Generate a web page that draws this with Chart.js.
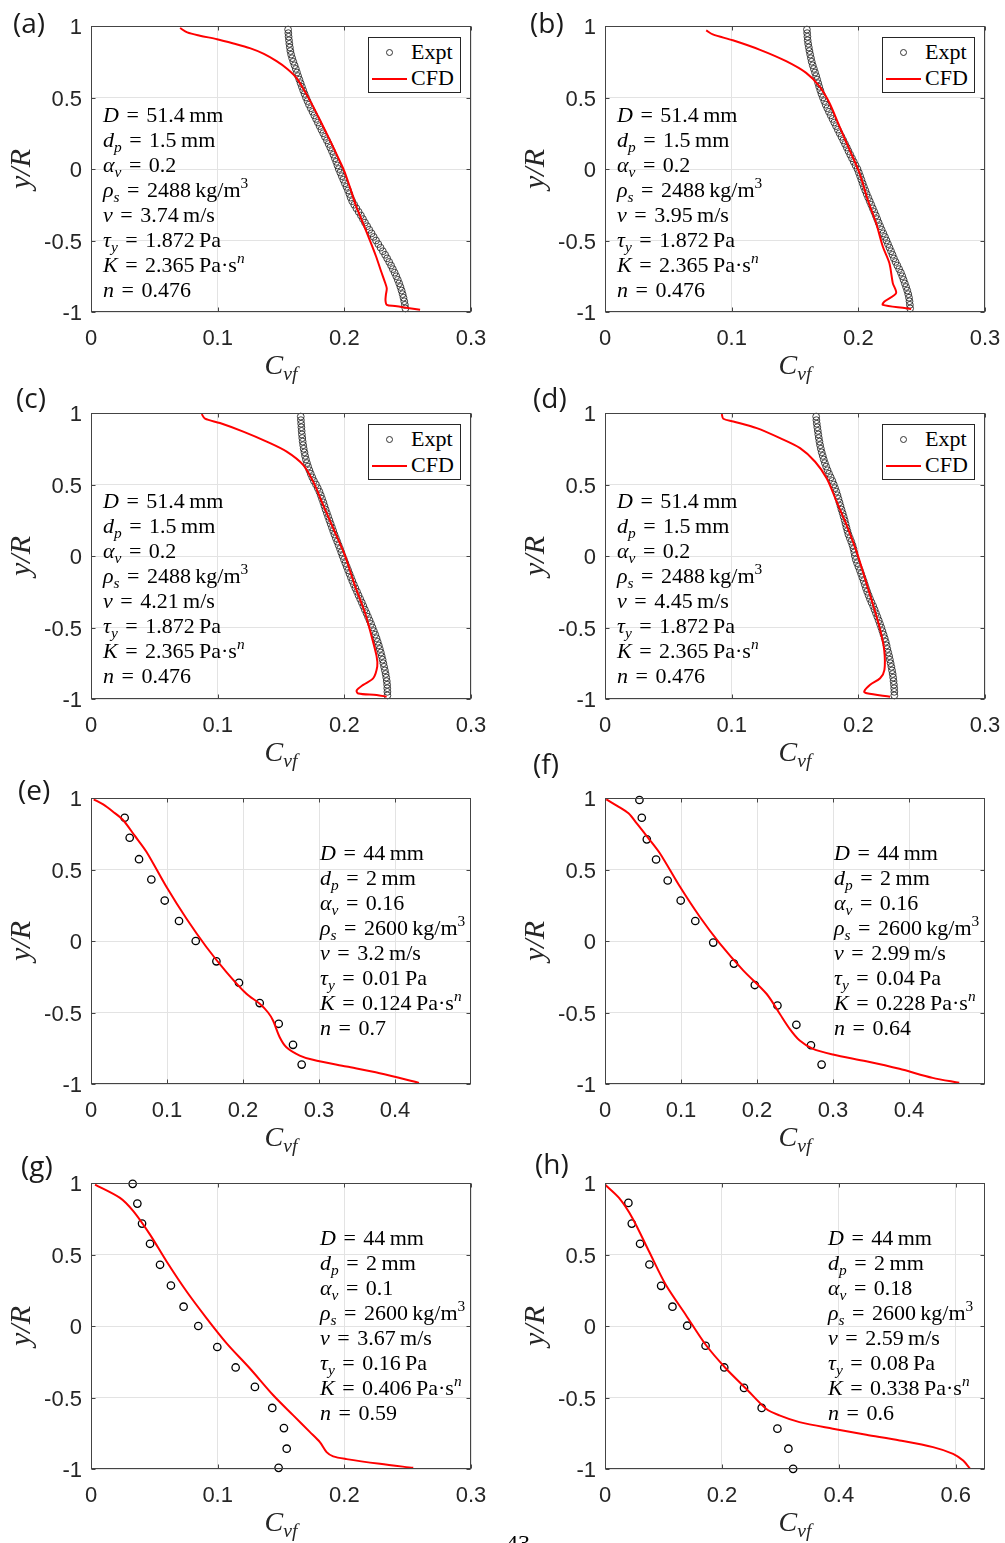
<!DOCTYPE html>
<html>
<head>
<meta charset="utf-8">
<script src="https://cdn.jsdelivr.net/npm/chart.js@4.4.1/dist/chart.umd.min.js"></script>
<style>
  html, body { margin: 0; padding: 0; background: #fff; }
  body { width: 1005px; height: 1543px; overflow: hidden; position: relative; }
  .panel { position: absolute; width: 510px; height: 386px; }
  .panel canvas { position: absolute; left: 0; top: 0; }
  .tag { position: absolute; font-family: 'Open Sans', sans-serif; font-size: 28px; line-height: 28px; color: #1a1a1a; white-space: nowrap; }
  .notes { position: absolute; font-family: 'Liberation Serif', serif; font-size: 22px; line-height: 25px; word-spacing: 2px; color: #000; white-space: nowrap; }
  .sb { font-size: 70%; position: relative; top: 0.32em; line-height: 0; font-style: italic; }
  .sp { font-size: 70%; position: relative; top: -0.6em; line-height: 0; }
  .xtitle { position: absolute; left: 91px; width: 380px; top: 349px; text-align: center; font-family: 'Liberation Serif', serif; font-size: 28px; line-height: 32px; color: #262626; white-space: nowrap; }
  .legend { position: absolute; box-sizing: border-box; border: 1px solid #262626; background: #fff; width: 93px; height: 56px; }
  .legend .mk { position: absolute; box-sizing: border-box; width: 7px; height: 7px; border: 1px solid #333; border-radius: 50%; left: 16.5px; top: 10.5px; }
  .legend .ln { position: absolute; height: 2px; background: #ff0000; left: 3px; top: 40px; width: 35px; }
  .legend .tx { position: absolute; left: 42px; font-family: 'Liberation Serif', serif; font-size: 22px; line-height: 25px; color: #000; }
  .folio { position: absolute; left: 506px; top: 1531px; font-family: 'Liberation Serif', serif; font-size: 24px; line-height: 24px; color: #000; }
</style>
</head>
<body>
<script>
// ---------- tick labels ----------
const yTicks = [-1, -0.5, 0, 0.5, 1];
const xTicks03 = [0, 0.1, 0.2, 0.3];
const xTicks05 = [0, 0.1, 0.2, 0.3, 0.4];
const xTicks065 = [0, 0.2, 0.4, 0.6];

// ---------- D = 51.4 mm rig: measured positions y/R ----------
const exptY_ad = [0.975, 0.95, 0.925, 0.9, 0.875, 0.85, 0.825, 0.8, 0.775, 0.75,
  0.725, 0.7, 0.675, 0.65, 0.625, 0.6, 0.575, 0.55, 0.525, 0.5,
  0.475, 0.45, 0.425, 0.4, 0.375, 0.35, 0.325, 0.3, 0.275, 0.25,
  0.225, 0.2, 0.175, 0.15, 0.125, 0.1, 0.075, 0.05, 0.025, 0,
  -0.025, -0.05, -0.075, -0.1, -0.125, -0.15, -0.175, -0.2, -0.225, -0.25,
  -0.275, -0.3, -0.325, -0.35, -0.375, -0.4, -0.425, -0.45, -0.475, -0.5,
  -0.525, -0.55, -0.575, -0.6, -0.625, -0.65, -0.675, -0.7, -0.725, -0.75,
  -0.775, -0.8, -0.825, -0.85, -0.875, -0.9, -0.925, -0.95, -0.975];

// (a) v = 3.74 m/s
const exptA_C = [.1556, .1558, .1560, .1563, .1566, .1570, .1574, .1580, .1588, .1597,
  .1607, .1617, .1626, .1635, .1645, .1655, .1665, .1675, .1686, .1697,
  .1709, .1721, .1735, .1749, .1763, .1777, .1791, .1805, .1819, .1833,
  .1847, .1862, .1876, .1889, .1902, .1914, .1925, .1936, .1946, .1956,
  .1968, .1980, .1992, .2004, .2017, .2029, .2040, .2050, .2062, .2078,
  .2095, .2113, .2131, .2147, .2163, .2180, .2197, .2215, .2232, .2250,
  .2268, .2286, .2304, .2322, .2338, .2354, .2369, .2383, .2397, .2410,
  .2422, .2433, .2443, .2452, .2460, .2467, .2473, .2478, .2482];
const cfdA_C = [0.0703, 0.0760, 0.0860, 0.0995, 0.1125, 0.1254, 0.1365, 0.1465, 0.1550, 0.1622,
  0.1690, 0.1753, 0.1820, 0.1884, 0.1940, 0.1995, 0.2045, 0.2094, 0.2148, 0.2200,
  0.2250, 0.2290, 0.2320, 0.2335, 0.2328, 0.2325, 0.2335, 0.2400, 0.2461, 0.2598];
const cfdA_y = [0.986, 0.955, 0.932, 0.908, 0.878, 0.845, 0.805, 0.754, 0.700, 0.637,
  0.540, 0.438, 0.320, 0.205, 0.100, -0.005, -0.130, -0.262, -0.380, -0.495,
  -0.610, -0.715, -0.790, -0.835, -0.880, -0.920, -0.950, -0.958, -0.966, -0.985];

// (b) v = 3.95 m/s
const exptB_C = [.1594, .1596, .1598, .1600, .1604, .1609, .1614, .1620, .1626, .1632,
  .1640, .1649, .1658, .1667, .1675, .1683, .1691, .1700, .1709, .1720,
  .1731, .1742, .1755, .1768, .1782, .1796, .1810, .1824, .1838, .1852,
  .1867, .1881, .1895, .1909, .1922, .1936, .1950, .1964, .1978, .1993,
  .2004, .2014, .2024, .2034, .2044, .2055, .2066, .2078, .2090, .2102,
  .2114, .2126, .2138, .2149, .2160, .2172, .2184, .2197, .2210, .2222,
  .2234, .2246, .2258, .2270, .2281, .2294, .2308, .2322, .2336, .2347,
  .2357, .2367, .2377, .2386, .2394, .2400, .2404, .2407, .2409];
const cfdB_C = [0.0799, 0.0851, 0.1009, 0.1219, 0.1430, 0.1588, 0.1693, 0.1772, 0.1851, 0.1930,
  0.2009, 0.2074, 0.2140, 0.2193, 0.2245, 0.2272, 0.2298, 0.2206, 0.2193, 0.2377, 0.2417];
const cfdB_y = [0.969, 0.941, 0.900, 0.835, 0.754, 0.672, 0.578, 0.462, 0.298, 0.135,
  -0.028, -0.215, -0.378, -0.542, -0.658, -0.798, -0.868, -0.927, -0.950, -0.973, -0.980];

// (c) v = 4.21 m/s
const exptC_C = [.1656, .1657, .1659, .1661, .1663, .1665, .1668, .1671, .1675, .1679,
  .1685, .1690, .1697, .1705, .1714, .1724, .1735, .1747, .1760, .1776,
  .1790, .1803, .1814, .1824, .1834, .1843, .1852, .1862, .1872, .1882,
  .1892, .1902, .1912, .1922, .1933, .1944, .1955, .1966, .1976, .1986,
  .1997, .2008, .2019, .2030, .2041, .2052, .2063, .2075, .2087, .2100,
  .2112, .2125, .2138, .2150, .2162, .2175, .2187, .2199, .2211, .2222,
  .2233, .2244, .2254, .2263, .2272, .2280, .2288, .2295, .2302, .2308,
  .2314, .2320, .2326, .2331, .2335, .2338, .2339, .2340, .2340];
const cfdC_C = [0.0874, 0.0900, 0.1018, 0.1202, 0.1387, 0.1545, 0.1676, 0.1755, 0.1834, 0.1926,
  0.2005, 0.2084, 0.2163, 0.2215, 0.2255, 0.2260, 0.2228, 0.2149, 0.2097, 0.2110, 0.2255, 0.2334];
const cfdC_y = [0.993, 0.960, 0.930, 0.870, 0.800, 0.730, 0.636, 0.518, 0.354, 0.166,
  0.002, -0.209, -0.397, -0.561, -0.702, -0.772, -0.855, -0.901, -0.941, -0.961, -0.972, -0.984];

// (d) v = 4.45 m/s
const exptD_C = [.1667, .1669, .1672, .1676, .1680, .1684, .1688, .1693, .1698, .1704,
  .1711, .1719, .1727, .1736, .1746, .1757, .1769, .1782, .1795, .1806,
  .1816, .1826, .1835, .1843, .1851, .1859, .1867, .1876, .1884, .1892,
  .1899, .1906, .1914, .1922, .1933, .1944, .1954, .1962, .1968, .1973,
  .1980, .1990, .2001, .2012, .2022, .2032, .2042, .2051, .2060, .2070,
  .2081, .2092, .2104, .2117, .2128, .2139, .2150, .2161, .2171, .2181,
  .2190, .2199, .2208, .2216, .2223, .2229, .2236, .2243, .2249, .2255,
  .2261, .2266, .2271, .2275, .2278, .2281, .2283, .2284, .2284];
const cfdD_C = [0.0922, 0.0934, 0.1013, 0.1198, 0.1382, 0.1540, 0.1659, 0.1751, 0.1830, 0.1909,
  0.1988, 0.2054, 0.2119, 0.2172, 0.2204, 0.2206, 0.2172, 0.2093, 0.2046, 0.2067, 0.2251];
const cfdD_y = [0.993, 0.960, 0.941, 0.894, 0.824, 0.754, 0.659, 0.542, 0.377, 0.213,
  0.025, -0.162, -0.350, -0.514, -0.655, -0.796, -0.855, -0.901, -0.948, -0.960, -0.984];

// ---------- D = 44 mm rig ----------
// (e)
const exptE_C = [0.0443, 0.0509, 0.0632, 0.0794, 0.0970, 0.1158, 0.1378, 0.1650, 0.1947, 0.2220, 0.2470, 0.2658, 0.2772];
const exptE_y = [0.862, 0.722, 0.572, 0.430, 0.283, 0.140, 0.000, -0.142, -0.292, -0.434, -0.579, -0.726, -0.864];
const cfdE_C = [0.0036, 0.0160, 0.0290, 0.0421, 0.0570, 0.0729, 0.0992, 0.1255, 0.1518, 0.1782,
  0.2045, 0.2220, 0.2330, 0.2395, 0.2483, 0.2571, 0.2746, 0.2921, 0.3361, 0.3799, 0.4316];
const cfdE_y = [0.991, 0.955, 0.904, 0.846, 0.740, 0.624, 0.379, 0.157, -0.042, -0.217,
  -0.369, -0.439, -0.500, -0.556, -0.673, -0.743, -0.801, -0.831, -0.878, -0.925, -0.992];

// (f)
const exptF_C = [0.0453, 0.0484, 0.0550, 0.0672, 0.0825, 0.0996, 0.1188, 0.1424, 0.1696, 0.1971, 0.2269, 0.2518, 0.2710, 0.2850];
const exptF_y = [0.986, 0.862, 0.711, 0.570, 0.423, 0.283, 0.140, -0.011, -0.158, -0.308, -0.451, -0.586, -0.729, -0.864];
const cfdF_C = [0.0016, 0.0160, 0.0309, 0.0418, 0.0570, 0.0724, 0.0987, 0.1249, 0.1512, 0.1818,
  0.2125, 0.2299, 0.2430, 0.2562, 0.2736, 0.2999, 0.3437, 0.3874, 0.4311, 0.4661];
const cfdF_y = [0.991, 0.945, 0.893, 0.823, 0.720, 0.612, 0.379, 0.168, -0.018, -0.205,
  -0.369, -0.509, -0.614, -0.696, -0.754, -0.794, -0.841, -0.894, -0.957, -0.992];

// (g)
const exptG_C = [0.0329, 0.0366, 0.0403, 0.0466, 0.0545, 0.0631, 0.0731, 0.0847, 0.0997, 0.1142, 0.1294, 0.1431, 0.1523, 0.1545, 0.1481];
const exptG_y = [0.994, 0.856, 0.716, 0.575, 0.428, 0.283, 0.135, 0.000, -0.147, -0.290, -0.426, -0.573, -0.714, -0.858, -0.992];
const cfdG_C = [0.0032, 0.0229, 0.0334, 0.0466, 0.0597, 0.0755, 0.0913, 0.1071, 0.1255, 0.1439,
  0.1597, 0.1729, 0.1807, 0.1860, 0.1912, 0.2018, 0.2281, 0.2544];
const cfdG_y = [0.989, 0.896, 0.803, 0.639, 0.451, 0.241, 0.054, -0.121, -0.297, -0.484,
  -0.625, -0.742, -0.812, -0.882, -0.912, -0.931, -0.964, -0.992];

// (h)
const exptH_C = [0.0400, 0.0458, 0.0600, 0.0760, 0.0960, 0.1154, 0.1406, 0.1720, 0.2040, 0.2378, 0.2680, 0.2949, 0.3137, 0.3218];
const exptH_y = [0.861, 0.716, 0.575, 0.430, 0.281, 0.135, 0.002, -0.138, -0.290, -0.433, -0.573, -0.718, -0.858, -0.999];
const cfdH_C = [0.0000, 0.0240, 0.0468, 0.0754, 0.1040, 0.1383, 0.1726, 0.2069, 0.2412, 0.2755,
  0.2983, 0.3326, 0.3897, 0.4469, 0.5040, 0.5611, 0.5954, 0.6126, 0.6240];
const cfdH_y = [0.989, 0.896, 0.756, 0.521, 0.288, 0.077, -0.133, -0.297, -0.437, -0.578,
  -0.625, -0.672, -0.718, -0.760, -0.800, -0.847, -0.894, -0.941, -0.995];

// ---------- case parameters: D, dp, alpha_v, rho_s, v, tau_y, K, n ----------
const paramsA = ['51.4', '1.5', '0.2', '2488', '3.74', '1.872', '2.365', '0.476'];
const paramsB = ['51.4', '1.5', '0.2', '2488', '3.95', '1.872', '2.365', '0.476'];
const paramsC = ['51.4', '1.5', '0.2', '2488', '4.21', '1.872', '2.365', '0.476'];
const paramsD = ['51.4', '1.5', '0.2', '2488', '4.45', '1.872', '2.365', '0.476'];
const paramsE = ['44', '2', '0.16', '2600', '3.2', '0.01', '0.124', '0.7'];
const paramsF = ['44', '2', '0.16', '2600', '2.99', '0.04', '0.228', '0.64'];
const paramsG = ['44', '2', '0.1', '2600', '3.67', '0.16', '0.406', '0.59'];
const paramsH = ['44', '2', '0.18', '2600', '2.59', '0.08', '0.338', '0.6'];

const seriesNames = ['Expt', 'CFD'];

// ---------- styling ----------
const AXIS_INK = '#262626';
const FRAME_INK = '#444444';
const GRID_INK = '#e3e3e3';
const CFD_RED = '#ff0000';
const TICK_FONT = { family: "'Liberation Sans', Arial, sans-serif", size: 22 };

const panels = [
  { tag: '(a)', left: 0,   top: 0,    tagAt: [13, 8],    xMax: 0.3,  xTicks: xTicks03,  ex: exptA_C, ey: exptY_ad, cx: cfdA_C, cy: cfdA_y, p: paramsA, dense: true,  notesAt: [103, 102] },
  { tag: '(b)', left: 514, top: 0,    tagAt: [530, 8],   xMax: 0.3,  xTicks: xTicks03,  ex: exptB_C, ey: exptY_ad, cx: cfdB_C, cy: cfdB_y, p: paramsB, dense: true,  notesAt: [103, 102] },
  { tag: '(c)', left: 0,   top: 387,  tagAt: [16, 383],  xMax: 0.3,  xTicks: xTicks03,  ex: exptC_C, ey: exptY_ad, cx: cfdC_C, cy: cfdC_y, p: paramsC, dense: true,  notesAt: [103, 101] },
  { tag: '(d)', left: 514, top: 387,  tagAt: [533, 383], xMax: 0.3,  xTicks: xTicks03,  ex: exptD_C, ey: exptY_ad, cx: cfdD_C, cy: cfdD_y, p: paramsD, dense: true,  notesAt: [103, 101] },
  { tag: '(e)', left: 0,   top: 772,  tagAt: [18, 775],  xMax: 0.5,  xTicks: xTicks05,  ex: exptE_C, ey: exptE_y,  cx: cfdE_C, cy: cfdE_y, p: paramsE, dense: false, notesAt: [320, 68] },
  { tag: '(f)', left: 514, top: 772,  tagAt: [533, 749], xMax: 0.5,  xTicks: xTicks05,  ex: exptF_C, ey: exptF_y,  cx: cfdF_C, cy: cfdF_y, p: paramsF, dense: false, notesAt: [320, 68] },
  { tag: '(g)', left: 0,   top: 1157, tagAt: [21, 1151], xMax: 0.3,  xTicks: xTicks03,  ex: exptG_C, ey: exptG_y,  cx: cfdG_C, cy: cfdG_y, p: paramsG, dense: false, notesAt: [320, 68] },
  { tag: '(h)', left: 514, top: 1157, tagAt: [535, 1149],xMax: 0.65, xTicks: xTicks065, ex: exptH_C, ey: exptH_y,  cx: cfdH_C, cy: cfdH_y, p: paramsH, dense: false, notesAt: [314, 68] }
];

// Box around the axes plus inward tick marks on all four sides
const axesBox = {
  id: 'axesBox',
  afterDraw(chart) {
    const { ctx, chartArea: a, scales: { x, y } } = chart;
    const L = Math.round(a.left) + 0.5, R = Math.round(a.right) - 0.5;
    const T = Math.round(a.top) + 0.5, B = Math.round(a.bottom) - 0.5;
    const len = 4;
    ctx.save();
    ctx.strokeStyle = FRAME_INK;
    ctx.lineWidth = 1;
    ctx.strokeRect(L, T, R - L, B - T);
    ctx.beginPath();
    x.ticks.forEach(t => {
      const px = Math.round(x.getPixelForValue(t.value)) + 0.5;
      ctx.moveTo(px, B); ctx.lineTo(px, B - len);
      ctx.moveTo(px, T); ctx.lineTo(px, T + len);
    });
    y.ticks.forEach(t => {
      const py = Math.round(y.getPixelForValue(t.value)) + 0.5;
      ctx.moveTo(L, py); ctx.lineTo(L + len, py);
      ctx.moveTo(R, py); ctx.lineTo(R - len, py);
    });
    ctx.stroke();
    ctx.restore();
  }
};

function fmt(v) { return String(Math.round(v * 1000) / 1000); }

function notesHTML(p) {
  const t = '&thinsp;';
  return [
    `<i>D</i> = ${p[0]}${t}mm`,
    `<i>d</i><span class="sb">p</span> = ${p[1]}${t}mm`,
    `<i>α</i><span class="sb">v</span> = ${p[2]}`,
    `<i>ρ</i><span class="sb">s</span> = ${p[3]}${t}kg/m<span class="sp">3</span>`,
    `<i>v</i> = ${p[4]}${t}m/s`,
    `<i>τ</i><span class="sb">y</span> = ${p[5]}${t}Pa`,
    `<i>K</i> = ${p[6]}${t}Pa·s<span class="sp"><i>n</i></span>`,
    `<i>n</i> = ${p[7]}`
  ].map(s => `<div>${s}</div>`).join('');
}

panels.forEach(pn => {
  const wrap = document.createElement('div');
  wrap.className = 'panel';
  wrap.style.left = pn.left + 'px';
  wrap.style.top = pn.top + 'px';
  document.body.appendChild(wrap);

  const cv = document.createElement('canvas');
  cv.width = 510; cv.height = 386;
  cv.style.width = '510px'; cv.style.height = '386px';
  wrap.appendChild(cv);

  const expt = pn.ex.map((c, i) => ({ x: c, y: pn.ey[i] }));
  const cfd = pn.cx.map((c, i) => ({ x: c, y: pn.cy[i] }));

  new Chart(cv, {
    type: 'scatter',
    data: {
      datasets: [
        {
          label: seriesNames[0], data: expt, order: 1, showLine: false,
          pointStyle: 'circle', pointRadius: pn.dense ? 3.4 : 3.7,
          pointBorderWidth: pn.dense ? 0.9 : 1.3,
          pointBorderColor: pn.dense ? '#2e2e2e' : '#000000',
          pointBackgroundColor: 'rgba(0,0,0,0)', clip: false
        },
        {
          label: seriesNames[1], data: cfd, order: 0, showLine: true,
          borderColor: CFD_RED, borderWidth: 2, pointRadius: 0, tension: 0.3,
          fill: false
        }
      ]
    },
    options: {
      responsive: false, animation: false, devicePixelRatio: 1,
      layout: { padding: { left: 0, top: 26, right: 39, bottom: 0 } },
      plugins: { legend: { display: false }, tooltip: { enabled: false } },
      scales: {
        x: {
          type: 'linear', min: 0, max: pn.xMax,
          afterBuildTicks: s => { s.ticks = pn.xTicks.map(v => ({ value: v })); },
          afterFit: s => { s.height = 74; },
          ticks: { padding: 14, color: AXIS_INK, font: TICK_FONT, autoSkip: false, maxRotation: 0, callback: v => fmt(v) },
          grid: { color: GRID_INK, lineWidth: 1, drawTicks: false },
          border: { display: false }
        },
        y: {
          type: 'linear', min: -1, max: 1,
          afterBuildTicks: s => { s.ticks = yTicks.map(v => ({ value: v })); },
          afterFit: s => { s.width = 91; },
          ticks: { padding: 9, labelOffset: 2, color: AXIS_INK, font: TICK_FONT, autoSkip: false, callback: v => fmt(v) },
          grid: { color: GRID_INK, lineWidth: 1, drawTicks: false },
          border: { display: false },
          title: {
            display: true, text: 'y/R', color: AXIS_INK, padding: { top: 4, bottom: 0 },
            font: { family: "'Liberation Serif', serif", style: 'italic', size: 30 }
          }
        }
      }
    },
    plugins: [axesBox]
  });

  // parameter block
  const nt = document.createElement('div');
  nt.className = 'notes';
  nt.style.left = pn.notesAt[0] + 'px';
  nt.style.top = pn.notesAt[1] + 'px';
  nt.innerHTML = notesHTML(pn.p);
  wrap.appendChild(nt);

  // x-axis title
  const xt = document.createElement('div');
  xt.className = 'xtitle';
  xt.innerHTML = '<i>C</i><span class="sb">vf</span>';
  wrap.appendChild(xt);

  // legend box (D = 51.4 mm cases)
  if (pn.dense) {
    const lg = document.createElement('div');
    lg.className = 'legend';
    lg.style.left = '368px';
    lg.style.top = '37px';
    lg.innerHTML = `<span class="mk"></span><span class="tx" style="top:1px">${seriesNames[0]}</span>` +
      `<span class="ln"></span><span class="tx" style="top:27px">${seriesNames[1]}</span>`;
    wrap.appendChild(lg);
  }

  // panel letter
  const tg = document.createElement('div');
  tg.className = 'tag';
  tg.style.left = pn.tagAt[0] + 'px';
  tg.style.top = pn.tagAt[1] + 'px';
  tg.textContent = pn.tag;
  document.body.appendChild(tg);
});

// page number at the foot of the sheet
const folio = document.createElement('div');
folio.className = 'folio';
folio.textContent = '43';
document.body.appendChild(folio);
</script>
</body>
</html>
